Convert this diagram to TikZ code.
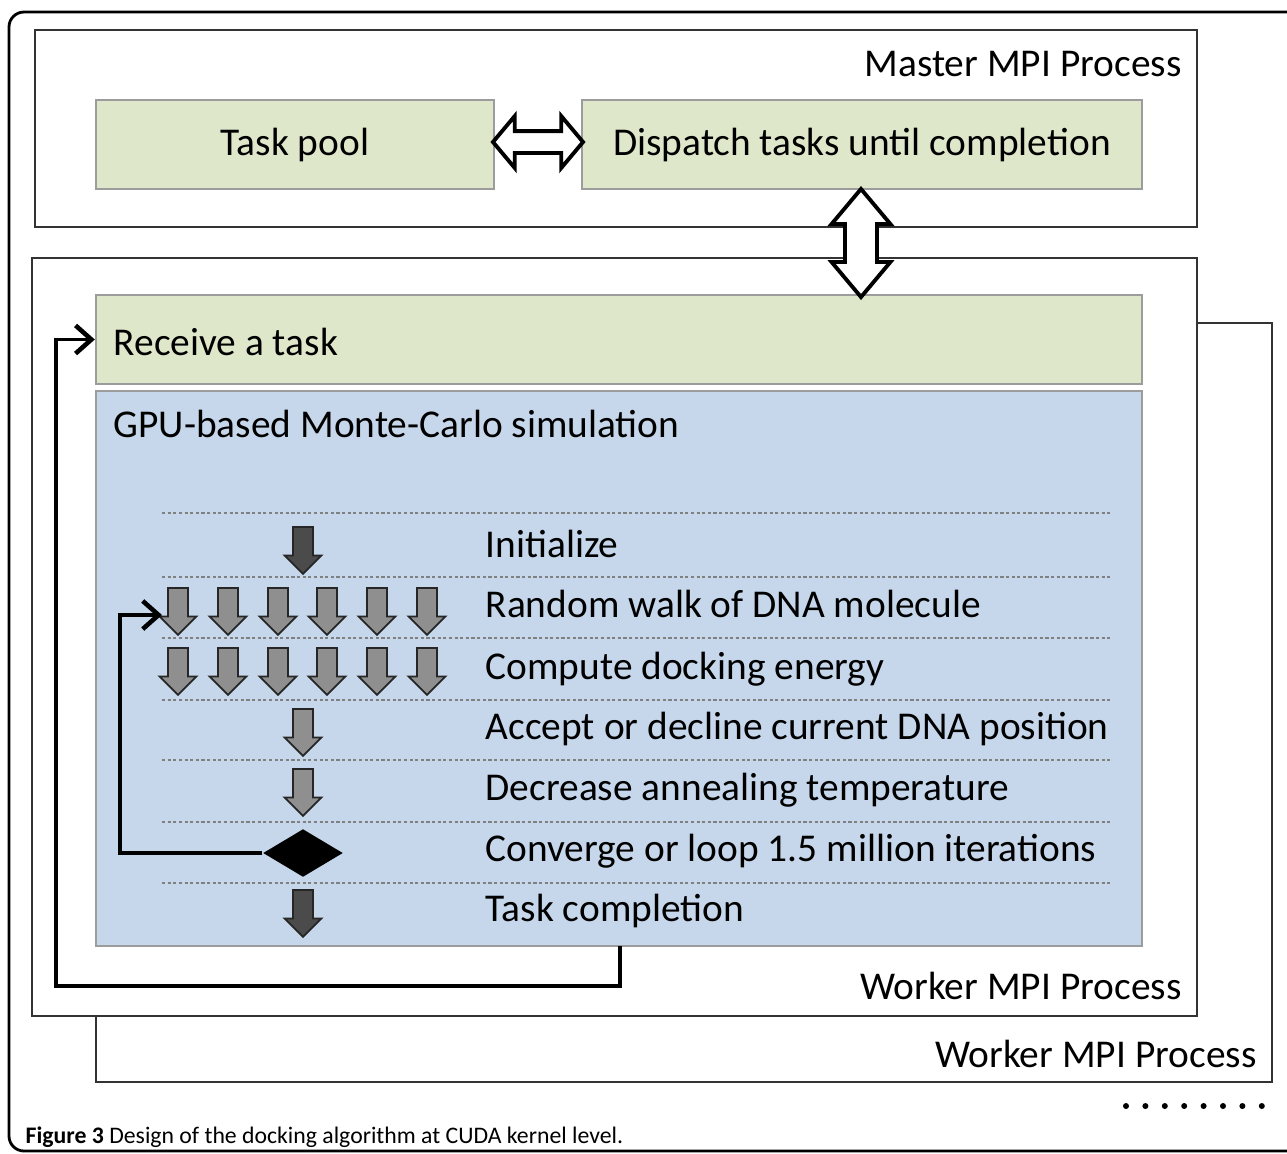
\documentclass[tikz,border=0pt]{standalone}
\usepackage{fontspec}
\setmainfont{Carlito}
\usetikzlibrary{shapes.arrows,shapes.geometric,arrows.meta}
\definecolor{taskgreen}{HTML}{DFE7CA}
\definecolor{gpublue}{HTML}{C6D7EB}
\definecolor{boxedge}{HTML}{9C9C9C}
\definecolor{arrgray}{HTML}{8F8F8F}
\definecolor{arrdark}{HTML}{4B4B4B}
\tikzset{
  procbox/.style={draw=black!80, line width=0.6pt, fill=white},
  greenbox/.style={draw=boxedge, fill=taskgreen, line width=0.5pt, inner sep=0pt},
  bluebox/.style={draw=boxedge, fill=gpublue, line width=0.5pt, inner sep=0pt},
  lbl/.style={font=\fontsize{11.2}{13}\selectfont, inner sep=0pt},
  rowline/.style={dash pattern=on 0.9pt off 0.7pt, draw=black!50, line width=0.3pt},
  downarr/.style={single arrow, rotate=-90, anchor=tail, draw=black!85, line width=0.5pt,
    fill=arrgray, inner xsep=0pt, inner ysep=0.09cm, single arrow head extend=0.085cm,
    single arrow tip angle=90, minimum height=0.47cm},
  darkarr/.style={downarr, fill=arrdark},
  bothway/.style={double arrow, draw, line width=1.1pt, fill=white, inner xsep=0pt},
  loopline/.style={line width=1.1pt, -{Straight Barb[length=4.5pt,width=8pt,line width=1.3pt]}},
}
\begin{document}
\begin{tikzpicture}[x=0.01cm,y=-0.01cm]
\useasboundingbox (0,0) rectangle (1287,1153);
\clip (0,0) rectangle (1287,1153);
% outer frame
\draw[line width=0.8pt, rounded corners=0.15cm] (9,12) rectangle (1330,1151);
% process frames
\node[procbox, minimum width=11.76cm, minimum height=7.59cm] (workerback) at (684,702.5) {};
\node[procbox, minimum width=11.65cm, minimum height=7.58cm] (worker) at (614.5,637) {};
\node[procbox, minimum width=11.62cm, minimum height=1.97cm] (master) at (616,128.5) {};
\node[lbl, anchor=base east] (mastertxt) at (1182,76) {Master MPI Process};
\node[lbl, anchor=base east] (workertxt) at (1182,999) {Worker MPI Process};
\node[lbl, anchor=base east] (workerbacktxt) at (1257,1067) {Worker MPI Process};
% master boxes
\node[greenbox, lbl, minimum width=3.98cm, minimum height=0.89cm] (tpool) at (295,144.5) {Task pool};
\node[greenbox, lbl, minimum width=5.60cm, minimum height=0.89cm] (dispatch) at (862,144.5) {Dispatch tasks until completion};
% worker boxes
\node[greenbox, minimum width=10.46cm, minimum height=0.89cm] (receive) at (619,339.5) {};
\node[lbl, anchor=base west] (receivetxt) at (113,355) {Receive a task};
\node[bluebox, minimum width=10.46cm, minimum height=5.55cm] (gpu) at (619,668.5) {};
\node[lbl, anchor=base west] (gputxt) at (113,437) {GPU-based Monte-Carlo simulation};
% steps
\foreach \y in {513,577,638,700,760,822,883}
  \draw[rowline] (162,\y) -- (1110,\y);
\node[lbl, anchor=base west] (init) at (485,557) {Initialize};
\node[lbl, anchor=base west] (rwalk) at (485,617) {Random walk of DNA molecule};
\node[lbl, anchor=base west] (cdock) at (485,679) {Compute docking energy};
\node[lbl, anchor=base west] (accept) at (485,739) {Accept or decline current DNA position};
\node[lbl, anchor=base west] (decr) at (485,800) {Decrease annealing temperature};
\node[lbl, anchor=base west] (conv) at (485,861) {Converge or loop 1.5 million iterations};
\node[lbl, anchor=base west] (done) at (485,921) {Task completion};
\node[darkarr] (initarr) at (303,526) {};
\foreach \x [count=\i] in {178,228,278,327,377,427} {
  \node[downarr] (rw\i) at (\x,587) {};
  \node[downarr] (cd\i) at (\x,647) {};
}
\node[downarr] (acceptarr) at (303,708) {};
\node[downarr] (decrarr) at (303,768) {};
\node[diamond, fill=black, inner sep=0pt, minimum width=0.8cm, minimum height=0.48cm] (convdia) at (303,853) {};
\node[darkarr] (donearr) at (303,889) {};
% loops
\coordinate (loopin) at (162,615);
\coordinate (loopout) at (620,946);
\draw[loopline] (convdia.west) -- ++(-142,0) |- (loopin);
\draw[loopline] (loopout) -- ++(0,40) -- ++(-564,0) |- (receive.west);
% two-way arrows
\node[bothway, minimum height=0.9cm, inner ysep=0.09cm, double arrow head extend=0.15cm,
  double arrow tip angle=100] (poolarr) at (538,142) {};
\node[bothway, rotate=90, minimum height=1.08cm, inner ysep=0.14cm, double arrow head extend=0.135cm,
  double arrow tip angle=80] (workarr) at (861,243) {};
% more workers
\foreach \i in {0,...,7}
  \fill (1126+\i*19.4,1106) circle[radius=0.03cm];
% caption
\node[anchor=base west, inner sep=0pt, font=\fontsize{6.75}{8}\selectfont] (caption) at (25,1143)
  {\textbf{Figure 3} Design of the docking algorithm at CUDA kernel level.};
\end{tikzpicture}
\end{document}
